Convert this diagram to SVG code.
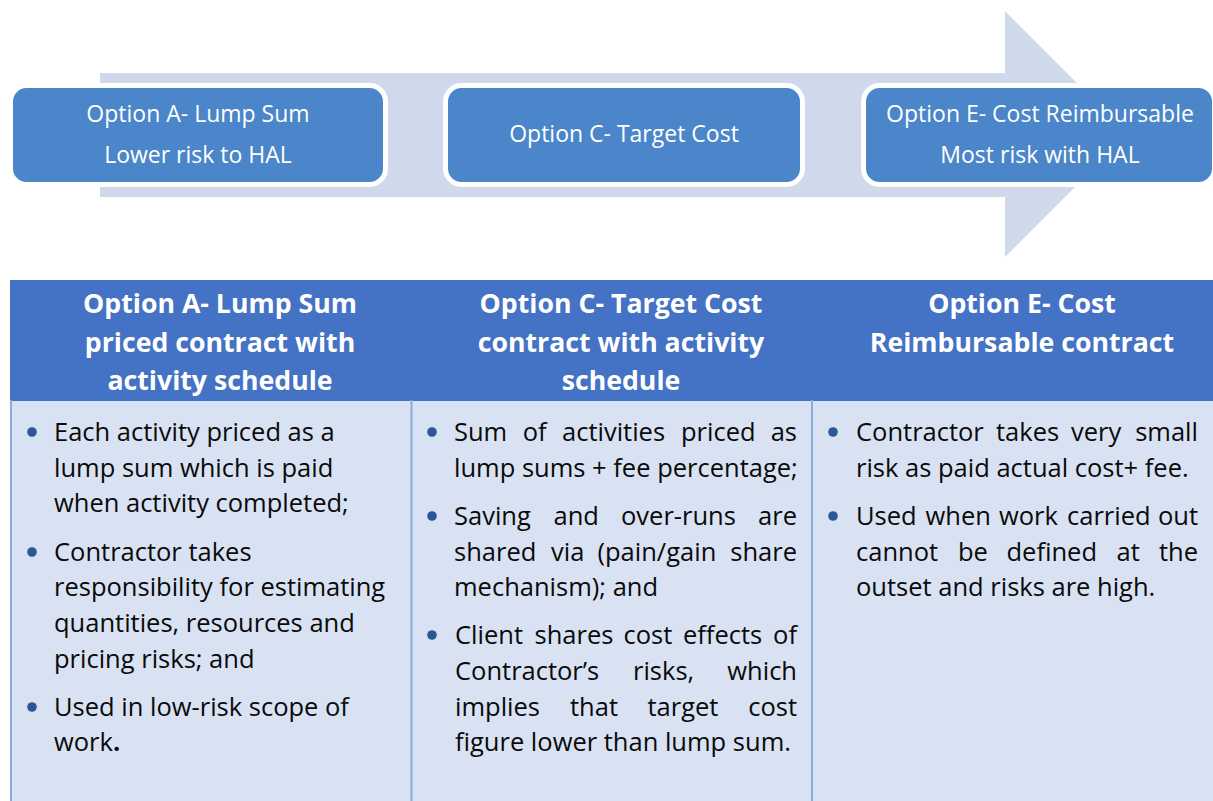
<svg xmlns="http://www.w3.org/2000/svg" width="1213" height="801" viewBox="0 0 1213 801">
<style>
.box{fill:#4A86C9;stroke:#FFFFFF;stroke-width:5}
.bt{font-family:"Open Sans","Liberation Sans",sans-serif;font-size:23px;fill:#FFFFFF;text-anchor:middle}
.ht{font-family:"Open Sans","Liberation Sans",sans-serif;font-size:26.7px;font-weight:bold;fill:#FFFFFF;text-anchor:middle}
.tx{font-family:"Open Sans","Liberation Sans",sans-serif;font-size:25.5px;fill:#0A0A0A}
.end{text-anchor:end}
.bul{fill:#2B5797}
.grid{stroke:#8EAADB;stroke-width:2;fill:none}
</style>
<rect width="1213" height="801" fill="#FFFFFF"/>
<g id="progress-arrow">
<polygon points="100,73 1005,73 1005,11 1128,134 1005,257 1005,197 100,197" fill="#D0D9EC"/>
</g>
<g id="node-a">
<rect class="box" x="10.5" y="85.5" width="375" height="99" rx="16"/>
<text class="bt" x="198" y="122">Option A- Lump Sum</text>
<text class="bt" x="198" y="163">Lower risk to HAL</text>
</g>
<g id="node-c">
<rect class="box" x="445.5" y="85.5" width="357" height="99" rx="16"/>
<text class="bt" x="624" y="142">Option C- Target Cost</text>
</g>
<g id="node-e">
<rect class="box" x="863.5" y="85.5" width="351" height="99" rx="16"/>
<text class="bt" x="1040" y="122">Option E- Cost Reimbursable</text>
<text class="bt" x="1040" y="163">Most risk with HAL</text>
</g>
<g id="table">
<rect x="10" y="280" width="1203" height="121" fill="#4472C4"/>
<rect x="11" y="401" width="1202" height="400" fill="#D9E2F3"/>
<line class="grid" x1="11" y1="400" x2="11" y2="801"/>
<line class="grid" x1="411.5" y1="400" x2="411.5" y2="801"/>
<line class="grid" x1="812" y1="400" x2="812" y2="801"/>
</g>
<g id="col-a">
<text class="ht" x="220" y="313">Option A- Lump Sum</text>
<text class="ht" x="220" y="352">priced contract with</text>
<text class="ht" x="220" y="390">activity schedule</text>
<circle class="bul" cx="32" cy="432" r="4.8"/>
<circle class="bul" cx="32" cy="552" r="4.8"/>
<circle class="bul" cx="32" cy="707" r="4.8"/>
<text class="tx" x="54" y="441">Each activity priced as a</text>
<text class="tx" x="54" y="477">lump sum which is paid</text>
<text class="tx" x="54" y="512">when activity completed;</text>
<text class="tx" x="54" y="561">Contractor takes</text>
<text class="tx" x="54" y="596">responsibility for estimating</text>
<text class="tx" x="54" y="632">quantities, resources and</text>
<text class="tx" x="54" y="668">pricing risks; and</text>
<text class="tx" x="54" y="716">Used in low-risk scope of</text>
<text class="tx" x="54" y="751">work<tspan font-weight="bold">.</tspan></text>
</g>
<g id="col-c">
<text class="ht" x="621" y="313">Option C- Target Cost</text>
<text class="ht" x="621" y="352">contract with activity</text>
<text class="ht" x="621" y="390">schedule</text>
<circle class="bul" cx="432" cy="432" r="4.8"/>
<circle class="bul" cx="432" cy="516" r="4.8"/>
<circle class="bul" cx="432" cy="635" r="4.8"/>
<text class="tx" x="454" y="441">Sum</text><text class="tx" x="522.7" y="441">of</text><text class="tx" x="562" y="441">activities</text><text class="tx" x="681" y="441">priced</text><text class="tx end" x="797" y="441">as</text>
<text class="tx" x="454" y="477">lump sums + fee percentage;</text>
<text class="tx" x="454" y="525">Saving</text><text class="tx" x="553.5" y="525">and</text><text class="tx" x="621" y="525">over-runs</text><text class="tx end" x="797" y="525">are</text>
<text class="tx" x="454" y="561">shared</text><text class="tx" x="551" y="561">via</text><text class="tx" x="597.5" y="561">(pain/gain</text><text class="tx end" x="797" y="561">share</text>
<text class="tx" x="454" y="596">mechanism); and</text>
<text class="tx" x="455" y="644">Client</text><text class="tx" x="534.5" y="644">shares</text><text class="tx" x="623.5" y="644">cost</text><text class="tx" x="683" y="644">effects</text><text class="tx end" x="797" y="644">of</text>
<text class="tx" x="455" y="680">Contractor’s</text><text class="tx" x="633" y="680">risks,</text><text class="tx end" x="797" y="680">which</text>
<text class="tx" x="455" y="716">implies</text><text class="tx" x="570" y="716">that</text><text class="tx" x="647.5" y="716">target</text><text class="tx end" x="797" y="716">cost</text>
<text class="tx" x="455" y="751">figure lower than lump sum.</text>
</g>
<g id="col-e">
<text class="ht" x="1022" y="313">Option E- Cost</text>
<text class="ht" x="1022" y="352">Reimbursable contract</text>
<circle class="bul" cx="833" cy="432" r="4.8"/>
<circle class="bul" cx="833" cy="516" r="4.8"/>
<text class="tx" x="856" y="441">Contractor</text><text class="tx" x="996" y="441">takes</text><text class="tx" x="1071" y="441">very</text><text class="tx end" x="1198" y="441">small</text>
<text class="tx" x="856" y="477">risk as paid actual cost+ fee.</text>
<text class="tx" x="856" y="525">Used</text><text class="tx" x="925.5" y="525">when</text><text class="tx" x="999" y="525">work</text><text class="tx" x="1067" y="525">carried</text><text class="tx end" x="1198" y="525">out</text>
<text class="tx" x="856" y="561">cannot</text><text class="tx" x="958" y="561">be</text><text class="tx" x="1006.5" y="561">defined</text><text class="tx" x="1116.5" y="561">at</text><text class="tx end" x="1198" y="561">the</text>
<text class="tx" x="856" y="596">outset and risks are high.</text>
</g>
</svg>
